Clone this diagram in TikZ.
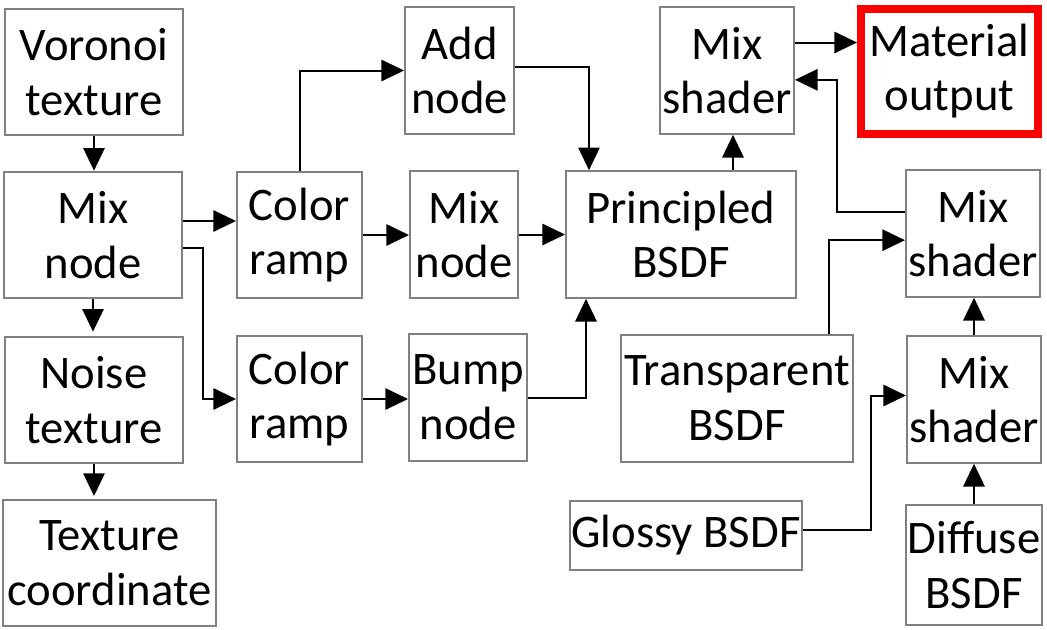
\documentclass[tikz,border=0pt]{standalone}
\usepackage{fontspec}
\setmainfont{Carlito}
\usetikzlibrary{arrows.meta}

\begin{document}
\begin{tikzpicture}[x=0.75pt, y=-0.75pt,
    block/.style={rectangle, draw=gray, line width=1.5pt, inner sep=0pt, align=center, minimum height=95pt, font=\fontsize{35}{41}\selectfont},
    output/.style={rectangle, draw=red, line width=6pt, inner sep=0pt, align=center, minimum width=132.75pt, minimum height=93.75pt, font=\fontsize{35}{41}\selectfont},
    arrow/.style={-{Triangle[length=17pt, width=16pt]}, line width=1.5pt}
]
    \useasboundingbox (0,0) rectangle (1047,629);

    % Texture chain on the left
    \node[block, minimum width=133.5pt] (vor) at (94, 72) {Voronoi\\texture};
    \node[block, minimum width=133.5pt] (mixa) at (93, 235) {Mix\\node};
    \node[block, minimum width=133.5pt] (noise) at (94, 400) {Noise\\texture};
    \node[block, minimum width=159.75pt] (texco) at (109.5, 563) {Texture\\coordinate};

    % Color ramps and middle nodes
    \node[block, minimum width=93.75pt] (ramp1) at (299.5, 235) {Color\\ramp};
    \node[block, minimum width=93.75pt] (ramp2) at (299.5, 399) {Color\\ramp};
    \node[block, minimum width=81.75pt] (add) at (459.5, 70.5) {Add\\node};
    \node[block, minimum width=81pt] (mixb) at (464, 234.5) {Mix\\node};
    \node[block, minimum width=88.5pt] (bump) at (468, 397.5) {Bump\\node};

    % Shaders
    \node[block, minimum width=172.5pt] (bsdf) at (681, 234.5) {Principled\\BSDF};
    \node[block, minimum width=100.5pt] (shadetop) at (727, 70.5) {Mix\\shader};
    \node[output] (out) at (949.5, 71) {Material\\output};
    \node[block, minimum width=100.5pt] (shadea) at (973, 233.5) {Mix\\shader};
    \node[block, minimum width=174pt] (transp) at (737, 398.5) {Transparent\\BSDF};
    \node[block, minimum width=100.5pt] (shadeb) at (974, 399.5) {Mix\\shader};
    \node[block, minimum width=174pt, minimum height=51.75pt] (glossy) at (686, 535.5) {Glossy BSDF};
    \node[block, minimum width=102pt, minimum height=90pt] (diffuse) at (974, 565) {Diffuse\\BSDF};

    % Helper points
    \coordinate (upin) at ([xshift=4.5pt]shadetop.south);
    \coordinate (topin) at ([xshift=18pt]bsdf.north west);
    \coordinate (botin) at ([xshift=15.75pt]bsdf.south west);

    % Arrows on the left
    \draw[arrow] (vor.south) -- (vor.south |- mixa.north);
    \draw[arrow] (mixa.south) -- ([yshift=3pt]mixa.south |- noise.north);
    \draw[arrow] (noise.south) -- ([yshift=2pt]noise.south |- texco.north);
    \draw[arrow] (mixa.east) ++(0,-14) coordinate (m1) -- (m1 -| ramp1.west);
    \draw[arrow] ([yshift=-9.75pt]mixa.east) -- ++(20,0) |- (ramp2.west);

    % Arrows in the middle
    \draw[arrow] (ramp1.north) |- (add.west);
    \draw[arrow] (ramp1.east) -- (ramp1.east -| mixb.west);
    \draw[arrow] (ramp2.east) -- (ramp2.east -| bump.west);
    \draw[arrow] (mixb.east) -- (mixb.east -| bsdf.west);
    \draw[arrow] ([yshift=3pt]add.east) -| (topin);
    \draw[arrow] (bump.east) -| (botin);

    % Arrows on the right
    \draw[arrow] (upin |- bsdf.north) -- (upin);
    \draw[arrow] (shadetop.east) ++(0,-28) coordinate (m2) -- (m2 -| out.west);
    \draw[arrow] ([yshift=16pt]shadea.west) -- ++(-68,0) |- ([yshift=-7pt]shadetop.east);
    \draw[arrow] ([xshift=69pt]transp.north) |- ([yshift=-5pt]shadea.west);
    \draw[arrow] (shadeb.north) -- (shadeb.north |- shadea.south);
    \draw[arrow] ([yshift=4pt]glossy.east) -- ++(68,0) |- ([yshift=3pt]shadeb.west);
    \draw[arrow] (diffuse.north) -- (diffuse.north |- shadeb.south);
\end{tikzpicture}
\end{document}
